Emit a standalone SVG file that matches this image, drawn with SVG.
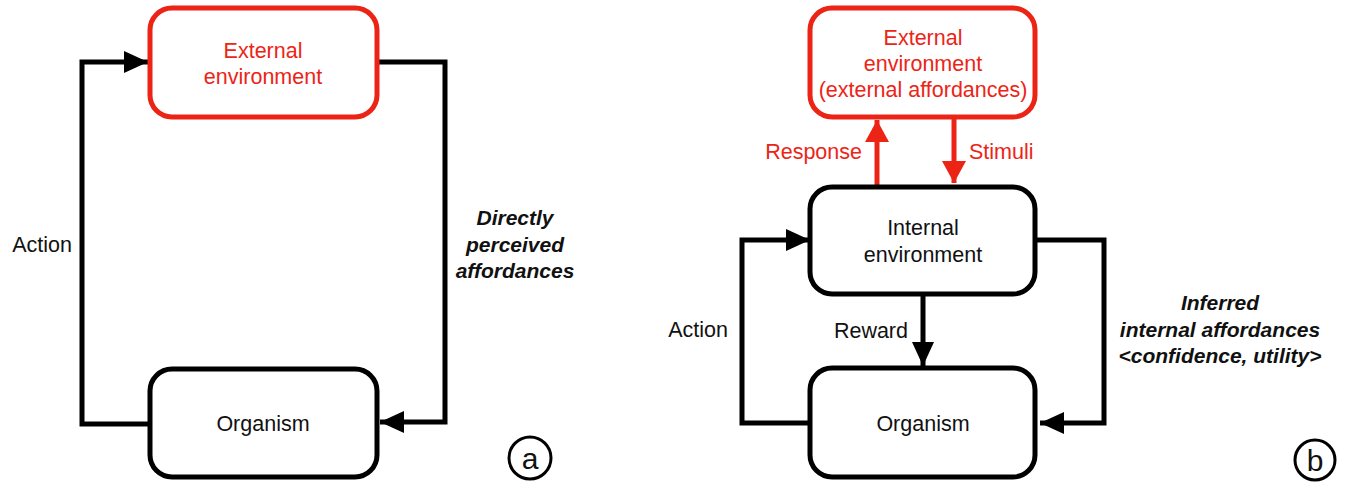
<svg xmlns="http://www.w3.org/2000/svg" width="1346" height="483" viewBox="0 0 1346 483">
<style>
text{font-family:"Liberation Sans",Arial,sans-serif;font-size:21.5px;fill:#111}
.c{text-anchor:middle}
.r{text-anchor:end}
.red{fill:#EC2416}
.bi{font-weight:bold;font-style:italic;font-size:21px}
.box{fill:#fff;stroke:#000;stroke-width:5}
.rbox{fill:#fff;stroke:#EC2416;stroke-width:5}
.ln{fill:none;stroke:#000;stroke-width:5}
.rln{fill:none;stroke:#EC2416;stroke-width:5}
.circ{fill:none;stroke:#000;stroke-width:3}
</style>
<defs>
<marker id="ah" markerUnits="userSpaceOnUse" markerWidth="24" markerHeight="24" viewBox="0 0 24 24" refX="24" refY="12" orient="auto"><path d="M0,1 L24,12 L0,23 Z" fill="#000"/></marker>
<marker id="rah" markerUnits="userSpaceOnUse" markerWidth="24" markerHeight="26" viewBox="0 0 24 26" refX="22" refY="13" orient="auto"><path d="M0,1 L22,13 L0,25 Z" fill="#EC2416"/></marker>
</defs>
<g id="connectors">
<path class="ln" d="M150,424 H82 V62 H148" marker-end="url(#ah)"/>
<path class="ln" d="M377,62 H445 V422 H380" marker-end="url(#ah)"/>
<path class="rln" d="M877,186 V120" marker-end="url(#rah)"/>
<path class="rln" d="M954,117 V183" marker-end="url(#rah)"/>
<path class="ln" d="M810,423 H742 V240 H810" marker-end="url(#ah)"/>
<path class="ln" d="M1035,240 H1104 V423 H1040" marker-end="url(#ah)"/>
<path class="ln" d="M923,294 V366" marker-end="url(#ah)"/>
<text x="72" y="252" class="r">Action</text>
<text class="c bi"><tspan x="515" y="225">Directly</tspan><tspan x="515" y="252">perceived</tspan><tspan x="515" y="278">affordances</tspan></text>
<text x="862" y="159" class="r red">Response</text>
<text x="969" y="159" class="red">Stimuli</text>
<text x="728" y="337" class="r">Action</text>
<text x="908" y="338" class="r">Reward</text>
<text class="c bi"><tspan x="1220" y="310">Inferred</tspan><tspan x="1220" y="337">internal affordances</tspan><tspan x="1220" y="363">&lt;confidence, utility&gt;</tspan></text>
</g>
<g id="ext-a">
<rect class="rbox" x="150" y="8" width="227" height="109" rx="22"/>
<text class="c red"><tspan x="263" y="58">External</tspan><tspan x="263" y="84">environment</tspan></text>
</g>
<g id="org-a">
<rect class="box" x="150" y="369" width="227" height="108" rx="22"/>
<text x="263" y="431" class="c">Organism</text>
</g>
<g id="label-a">
<circle class="circ" cx="530" cy="458" r="21"/>
<text x="530" y="469" class="c" style="font-size:30px">a</text>
</g>
<g id="ext-b">
<rect class="rbox" x="810" y="8" width="225" height="109" rx="22"/>
<text class="c red"><tspan x="923" y="45">External</tspan><tspan x="923" y="71">environment</tspan><tspan x="923" y="97">(external affordances)</tspan></text>
</g>
<g id="int-b">
<rect class="box" x="810" y="187" width="225" height="107" rx="22"/>
<text class="c"><tspan x="923" y="235">Internal</tspan><tspan x="923" y="262">environment</tspan></text>
</g>
<g id="org-b">
<rect class="box" x="810" y="368" width="225" height="109" rx="22"/>
<text x="923" y="431" class="c">Organism</text>
</g>
<g id="label-b">
<circle class="circ" cx="1315" cy="460" r="20"/>
<text x="1315" y="471" class="c" style="font-size:30px">b</text>
</g>
</svg>
